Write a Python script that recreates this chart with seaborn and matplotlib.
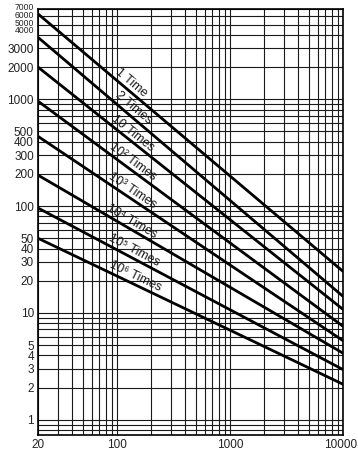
import numpy as np
import pandas as pd
import matplotlib
matplotlib.use("Agg")
import matplotlib.pyplot as plt
import matplotlib.transforms as mtransforms
import seaborn as sns

# line data: value at x=20 and at x=10000 (straight lines on log-log)
x_ends = [20, 10000]
series = ["1 Time", "2 Times", "10 Times", "10² Times", "10³ Times",
          "10⁴ Times", "10⁵ Times", "10⁶ Times"]
start_vals = [6300, 3800, 2000, 960, 450, 195, 96, 50]
end_vals = [24.5, 14.3, 10.8, 7.5, 5.5, 4.2, 2.95, 2.15]
label_x = [122, 126, 126, 126, 127, 126, 131, 137]

ytick_vals = [7000, 6000, 5000, 4000, 3000, 2000, 1000, 500, 400, 300, 200,
              100, 50, 40, 30, 20, 10, 5, 4, 3, 2, 1]
xtick_vals = [20, 100, 1000, 10000]

rows = []
for name, s, e in zip(series, start_vals, end_vals):
    rows.append({"x": x_ends[0], "y": s, "series": name})
    rows.append({"x": x_ends[1], "y": e, "series": name})
df = pd.DataFrame(rows)

sns.set_style("white")
plt.rcParams["font.family"] = ["Liberation Sans", "DejaVu Sans"]

fig = plt.figure(figsize=(3.58, 4.5), dpi=100)
ax = fig.add_axes([38 / 358, 1 - 435 / 450, 305 / 358, 426 / 450])

sns.lineplot(data=df, x="x", y="y", hue="series", hue_order=series,
             palette=["black"] * len(series), linewidth=2.0, legend=False, ax=ax)

ax.set_xscale("log")
ax.set_yscale("log")
ax.set_xlim(20, 10000)
ax.set_ylim(0.72, 7000)

# labelled ticks
ax.set_xticks(xtick_vals, [str(v) for v in xtick_vals])
ax.set_yticks(ytick_vals, [str(v) for v in ytick_vals])
# full log grid on the minor ticks
ax.xaxis.set_minor_locator(matplotlib.ticker.LogLocator(base=10, subs=np.arange(1, 10)))
ax.yaxis.set_minor_locator(matplotlib.ticker.LogLocator(base=10, subs=np.arange(1, 10)))
ax.xaxis.set_minor_formatter(matplotlib.ticker.NullFormatter())
ax.yaxis.set_minor_formatter(matplotlib.ticker.NullFormatter())
ax.grid(True, which="both", color="#1a1a1a", linewidth=0.8)
ax.tick_params(axis="both", which="both", length=0, labelsize=8.5,
               colors="#222222", pad=3)
ax.set_xlabel("")
ax.set_ylabel("")
for sp in ax.spines.values():
    sp.set_color("black")
    sp.set_linewidth(1.2)

# crowded labels at the top: small, spread evenly (shift in pixels)
nudge = {7000: 3.0, 6000: 1.5, 5000: 2.5, 4000: 5.0}
for v, lab in zip(ytick_vals, ax.get_yticklabels()):
    if v in nudge:
        lab.set_fontsize(6.2)
        lab.set_transform(lab.get_transform() +
                          mtransforms.ScaledTranslation(0, nudge[v] / 100, fig.dpi_scale_trans))
xl = ax.get_xticklabels()[-1]
xl.set_transform(xl.get_transform() +
                 mtransforms.ScaledTranslation(-2 / 100, 0, fig.dpi_scale_trans))

# rotated labels sitting on each line
for name, s, e, lx in zip(series, start_vals, end_vals, label_x):
    frac = np.log10(lx / x_ends[0]) / np.log10(x_ends[1] / x_ends[0])
    ly = 10 ** (np.log10(s) + frac * (np.log10(e) - np.log10(s)))
    p0 = ax.transData.transform((x_ends[0], s))
    p1 = ax.transData.transform((x_ends[1], e))
    ang = np.degrees(np.arctan2(p1[1] - p0[1], p1[0] - p0[0]))
    a = np.radians(-ang)
    d = 7.5
    ax.annotate(name, xy=(lx, ly), xytext=(d * np.sin(a), d * np.cos(a)),
                textcoords="offset pixels", rotation=ang, rotation_mode="anchor",
                ha="center", va="center", fontsize=9, color="#1a1a1a")

fig.savefig("out.png", dpi=100)
